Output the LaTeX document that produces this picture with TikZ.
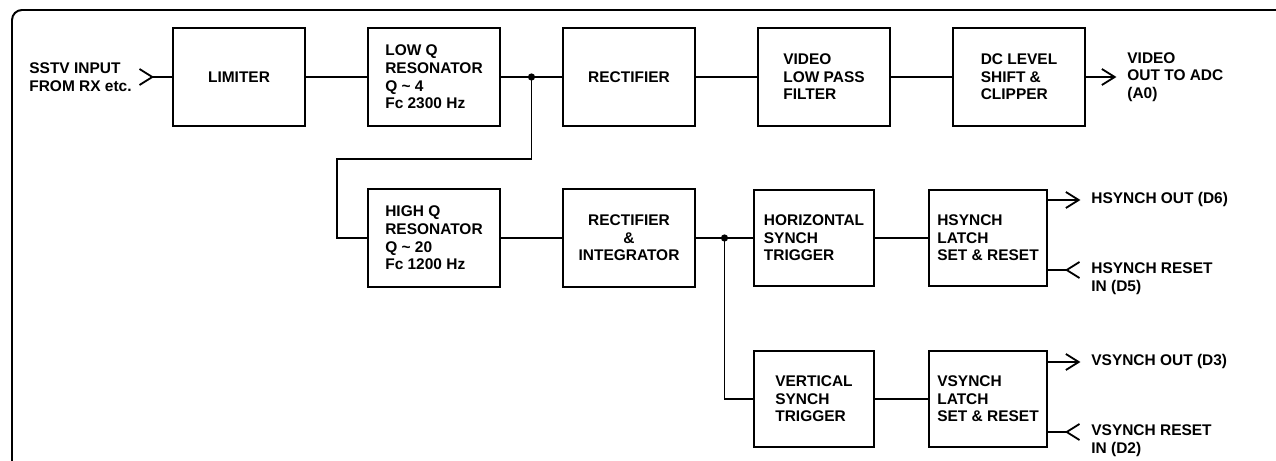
\documentclass[tikz,border=0pt]{standalone}
\usepackage{fontspec}
\setmainfont{Liberation Sans}
\usetikzlibrary{arrows.meta,calc}

\begin{document}
\begin{tikzpicture}[
        node distance=4.875cm,
        font=\bfseries\fontsize{11}{12.5}\selectfont,
        box/.style={draw, line width=2pt, align=left, minimum width=3.3cm, minimum height=2.45cm},
        sbox/.style={box, align=left, minimum width=3cm, minimum height=2.4cm},
        latch/.style={sbox, minimum width=2.95cm},
        wire/.style={line width=1.4pt},
        arrow/.style={wire, -{Straight Barb[length=0.32cm, width=0.4cm, line width=1.3pt]}},
        inarrow/.style={wire, -{Straight Barb[reversed, length=0.32cm, width=0.4cm, line width=1.3pt]}},
        dot/.style={circle, fill, inner sep=0pt, minimum size=0.18cm}
    ]
        \useasboundingbox (0,0) rectangle (31.9,-11.525);
        \draw[line width=1.4pt, rounded corners=0.25cm] (0.3,-11.525) |- (31.9,-0.25);

        \node[box] (limiter) at (5.975,-1.925) {LIMITER};
        \node[box, right of=limiter] (lowq) {LOW Q\\RESONATOR\\Q \textasciitilde{} 4\\Fc 2300 Hz};
        \node[box, right of=lowq] (rect) {RECTIFIER};
        \node[box, right of=rect] (vlpf) {VIDEO\\LOW PASS\\FILTER};
        \node[box, right of=vlpf] (dclevel) {DC LEVEL\\SHIFT \&\\CLIPPER};

        \node[box, node distance=4.025cm, below of=lowq] (highq) {HIGH Q\\RESONATOR\\Q \textasciitilde{} 20\\Fc 1200 Hz};
        \node[box, align=center, right of=highq] (rectint) {RECTIFIER\\\&\\INTEGRATOR};
        \node[sbox, right of=rectint, xshift=-0.25cm] (horiz) {HORIZONTAL\\SYNCH\\TRIGGER};
        \node[latch, right of=horiz, xshift=-0.525cm] (hlatch) {HSYNCH\\LATCH\\SET \& RESET};
        \node[sbox, node distance=4.025cm, below of=horiz] (vert) {VERTICAL\\SYNCH\\TRIGGER};
        \node[latch, node distance=4.025cm, below of=hlatch] (vlatch) {VSYNCH\\LATCH\\SET \& RESET};

        \coordinate (sstv) at ([xshift=-0.825cm]limiter.west);
        \node[anchor=east, align=left] (sstvtxt) at ([xshift=-0.05cm]sstv) {SSTV INPUT\\FROM RX etc.};
        \draw[inarrow] (limiter) -- (sstv);

        \coordinate (j1) at ($(lowq.east)!0.5!(rect.west)$);
        \coordinate (j2) at ($(rectint.east)!0.5!(horiz.west)$);

        \draw[wire] (limiter) -- (lowq);
        \draw[wire] (lowq) -- (rect);
        \draw[wire] (rect) -- (vlpf);
        \draw[wire] (vlpf) -- (dclevel);
        \draw[wire] (j1) -- ++(0,-2.05cm) -| ([xshift=-0.75cm]highq.west) -- (highq.west);
        \draw[wire] (highq) -- (rectint);
        \draw[wire] (rectint) -- (horiz);
        \draw[wire] (horiz) -- (hlatch);
        \draw[wire] (j2) |- (vert.west);
        \draw[wire] (vert) -- (vlatch);
        \node[dot] at (j1) {};
        \node[dot] at (j2) {};

        \coordinate (vout) at ([xshift=0.75cm]dclevel.east);
        \draw[arrow] (dclevel) -- (vout);
        \node[anchor=west, align=left] (vouttxt) at ([xshift=0.15cm]vout) {VIDEO\\OUT TO ADC\\(A0)};

        \coordinate (hout) at ([xshift=0.8cm, yshift=0.95cm]hlatch.east);
        \draw[arrow] ([yshift=0.95cm]hlatch.east) -- (hout);
        \node[anchor=west] (houttxt) at ([xshift=0.15cm]hout) {HSYNCH OUT (D6)};
        \coordinate (hrst) at ([xshift=0.8cm, yshift=-0.8cm]hlatch.east);
        \draw[inarrow] ([yshift=-0.8cm]hlatch.east) -- (hrst);
        \node[anchor=north west, align=left] (hrsttxt) at ([xshift=0.15cm, yshift=0.3cm]hrst) {HSYNCH RESET\\IN (D5)};

        \coordinate (vout2) at ([xshift=0.8cm, yshift=0.925cm]vlatch.east);
        \draw[arrow] ([yshift=0.925cm]vlatch.east) -- (vout2);
        \node[anchor=west] (vout2txt) at ([xshift=0.15cm]vout2) {VSYNCH OUT (D3)};
        \coordinate (vrst) at ([xshift=0.8cm, yshift=-0.825cm]vlatch.east);
        \draw[inarrow] ([yshift=-0.825cm]vlatch.east) -- (vrst);
        \node[anchor=north west, align=left] (vrsttxt) at ([xshift=0.15cm, yshift=0.3cm]vrst) {VSYNCH RESET\\IN (D2)};
    \end{tikzpicture}
\end{document}
